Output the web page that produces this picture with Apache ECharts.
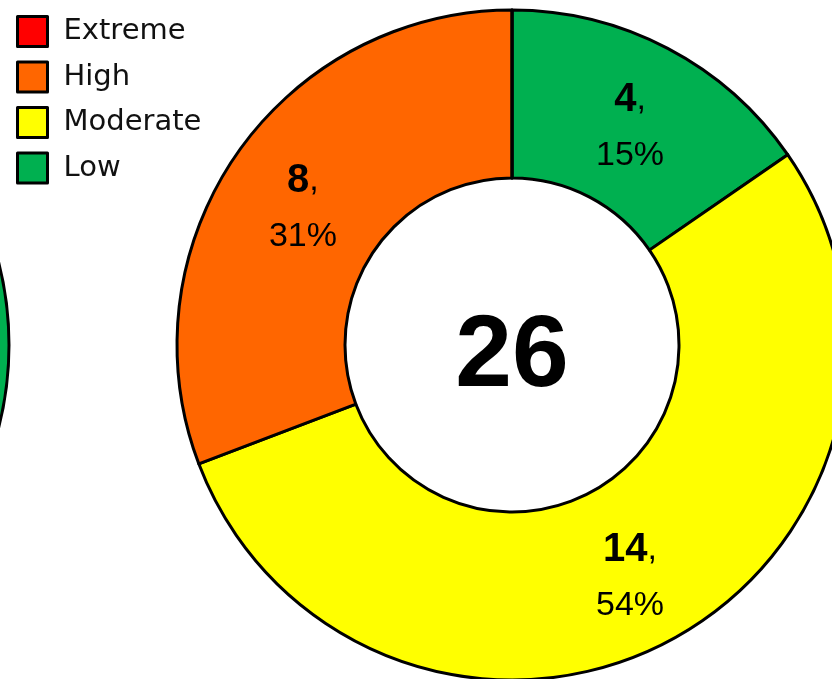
<!DOCTYPE html>
<html>
<head>
<meta charset="utf-8">
<script src="https://cdn.jsdelivr.net/npm/echarts@6/dist/echarts.min.js"></script>
<style>
  html, body { margin: 0; padding: 0; background: #fff; }
  #chart { width: 832px; height: 679px; }
</style>
</head>
<body>
<div id="chart"></div>
<script>
// legend order, top to bottom
const legendNames = ['Extreme', 'High', 'Moderate', 'Low']
// slices, clockwise from 12 o'clock
const sliceNames = ['Low', 'Moderate', 'High', 'Extreme']
const sliceValues = [4, 14, 8, 0]
// the chart next door, only its right rim shows at the left edge
const neighbourNames = ['Low']
const neighbourValues = [1]

const levelColors = {
  Extreme: '#FF0000',
  High: '#FF6600',
  Moderate: '#FFFF00',
  Low: '#00B050'
}

const total = sliceValues.reduce((a, b) => a + b, 0)

const chart = echarts.init(document.getElementById('chart'))

chart.setOption({
  animation: false,
  legend: {
    orient: 'vertical',
    left: 11,
    top: 10,
    icon: 'rect',
    itemWidth: 30,
    itemHeight: 30,
    itemGap: 12.5,
    selectedMode: false,
    data: legendNames,
    itemStyle: { borderColor: '#000', borderWidth: 3 },
    textStyle: {
      fontFamily: 'DejaVu Sans',
      fontSize: 29,
      color: '#111',
      padding: [0, 0, 0, 11]
    }
  },
  graphic: [{
    type: 'text',
    x: 512,
    y: 358,
    style: {
      text: String(total),
      font: 'bold 102px "Liberation Sans"',
      textAlign: 'center',
      textVerticalAlign: 'middle',
      fill: '#000'
    }
  }],
  series: [
    {
      type: 'pie',
      center: [512, 345],
      radius: [167, 335],
      startAngle: 90,
      clockwise: true,
      avoidLabelOverlap: false,
      itemStyle: { borderColor: '#000', borderWidth: 3 },
      label: {
        show: true,
        position: 'inside',
        color: '#000',
        padding: [16, 0, 0, 0],
        formatter: p => p.value ? '{n|' + p.value + '}{c|,}\n{p|' + Math.round(p.percent) + '%}' : '',
        rich: {
          n: { fontFamily: 'Liberation Sans', fontWeight: 'bold', fontSize: 40, lineHeight: 56, color: '#000' },
          c: { fontFamily: 'Liberation Sans', fontSize: 34, lineHeight: 56, color: '#000' },
          p: { fontFamily: 'Liberation Sans', fontSize: 34, lineHeight: 56, color: '#000' }
        }
      },
      labelLine: { show: false },
      emphasis: { disabled: true },
      data: sliceNames.map((name, i) => ({
        name: name,
        value: sliceValues[i],
        itemStyle: { color: levelColors[name] }
      }))
    },
    {
      type: 'pie',
      center: [-326, 345],
      radius: [167, 335],
      silent: true,
      itemStyle: { borderColor: '#000', borderWidth: 3 },
      label: { show: false },
      labelLine: { show: false },
      data: neighbourNames.map((name, i) => ({
        name: name,
        value: neighbourValues[i],
        itemStyle: { color: levelColors[name] }
      }))
    }
  ]
})
</script>
</body>
</html>
